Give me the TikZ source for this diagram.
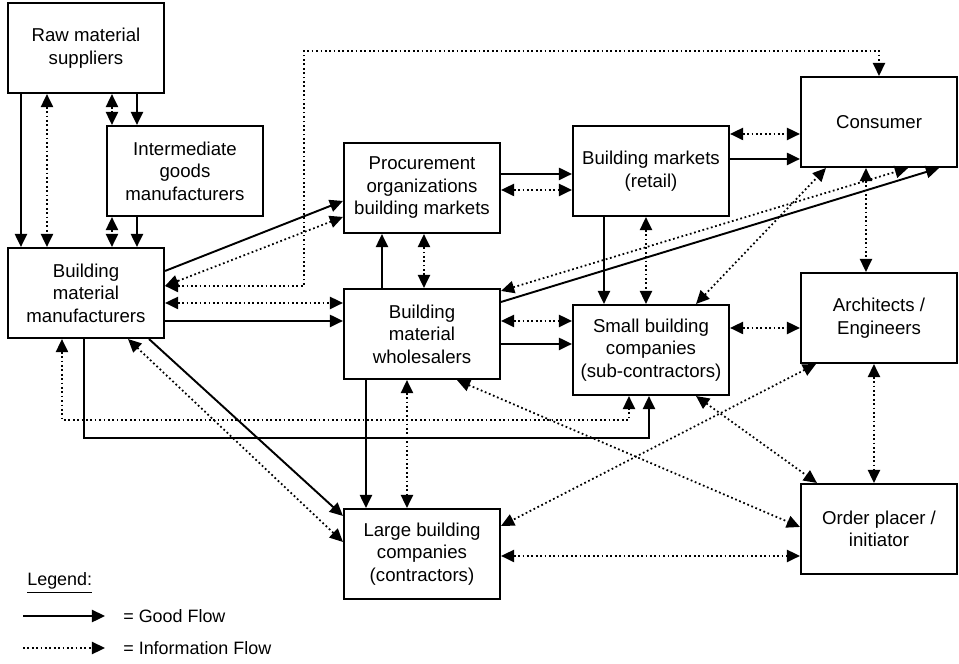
\documentclass[tikz,border=0pt]{standalone}
\usepackage{fontspec}
\setmainfont{Liberation Sans}
\usetikzlibrary{arrows.meta}

\begin{document}
\begin{tikzpicture}[x=0.02cm,y=-0.02cm]
    \tikzstyle{actor}=[draw=black,line width=1.2pt,minimum width=3.12cm,minimum height=1.8cm,align=center,inner sep=2pt,font=\fontsize{10.6}{12.8}\selectfont]
    \tikzstyle{good}=[line width=1.1pt,-{Triangle[length=7.5pt,width=7pt]}]
    \tikzstyle{info}=[line width=1pt,dash pattern=on 1pt off 1.5pt,{Triangle[length=7.5pt,width=7pt]}-{Triangle[length=7.5pt,width=7pt]}]
    \tikzstyle{legendtext}=[anchor=west,inner sep=0pt,font=\fontsize{10.2}{12}\selectfont]

    \useasboundingbox (0,0) rectangle (959,663);

    % actors
    \node[actor] at (86,48) (raw) {Raw material\\suppliers};
    \node[actor] at (185,171) (inter) {Intermediate\\goods\\manufacturers};
    \node[actor] at (86,293) (bmm) {Building\\material\\manufacturers};
    \node[actor] at (422,188) (proc) {Procurement\\organizations\\building markets};
    \node[actor] at (651,171) (retail) {Building markets\\(retail)};
    \node[actor] at (879,122) (cons) {Consumer};
    \node[actor] at (422,334) (whole) {Building\\material\\wholesalers};
    \node[actor] at (651,350) (small) {Small building\\companies\\(sub-contractors)};
    \node[actor] at (879,318) (arch) {Architects /\\Engineers};
    \node[actor] at (422,554) (large) {Large building\\companies\\(contractors)};
    \node[actor] at (879,529) (order) {Order placer /\\initiator};

    % suppliers and manufacturers
    \draw[good] ([shift={(14,0)}]raw.south west) -- ([shift={(14,0)}]bmm.north west);
    \draw[info] ([shift={(40,0)}]raw.south west) -- ([shift={(40,0)}]bmm.north west);
    \draw[info] ([shift={(105,0)}]raw.south west) -- ([shift={(6,0)}]inter.north west);
    \draw[good] ([shift={(130,0)}]raw.south west) -- ([shift={(31,0)}]inter.north west);
    \draw[info] ([shift={(6,0)}]inter.south west) -- ([shift={(105,0)}]bmm.north west);
    \draw[good] ([shift={(31,0)}]inter.south west) -- ([shift={(130,0)}]bmm.north west);

    % building material manufacturers
    \draw[good] ([shift={(0,24)}]bmm.north east) -- ([shift={(0,59)}]proc.north west);
    \draw[info] ([shift={(0,75)}]proc.north west) -- ([shift={(0,39)}]bmm.north east);
    \draw[info] ([shift={(0,39)}]bmm.north east) -| ([shift={(-575,-25)}]cons.north) -| (cons.north);
    \draw[info] ([shift={(0,56)}]bmm.north east) -- ([shift={(0,15)}]whole.north west);
    \draw[good] ([shift={(0,74)}]bmm.north east) -- ([shift={(0,33)}]whole.north west);
    \draw[info] ([shift={(55,0)}]bmm.south west) -- ++(0,81) -| ([shift={(57,0)}]small.south west);
    \draw[good] ([shift={(77,0)}]bmm.south west) -- ++(0,99) -| ([shift={(77,0)}]small.south west);
    \draw[info] ([shift={(-37,0)}]bmm.south east) -- ([shift={(0,34)}]large.north west);
    \draw[good] ([shift={(-16,0)}]bmm.south east) -- ([shift={(0,8)}]large.north west);

    % trade
    \draw[good] ([shift={(39,0)}]whole.north west) -- ([shift={(39,0)}]proc.south west);
    \draw[info] ([shift={(81,0)}]whole.north west) -- ([shift={(81,0)}]proc.south west);
    \draw[good] ([shift={(0,32)}]proc.north east) -- ([shift={(0,49)}]retail.north west);
    \draw[info] ([shift={(0,48)}]proc.north east) -- ([shift={(0,65)}]retail.north west);
    \draw[info] ([shift={(0,9)}]retail.north east) -- ([shift={(0,58)}]cons.north west);
    \draw[good] ([shift={(0,34)}]retail.north east) -- ([shift={(0,83)}]cons.north west);
    \draw[good] ([shift={(32,0)}]retail.south west) -- ([shift={(32,0)}]small.north west);
    \draw[info] ([shift={(74,0)}]retail.south west) -- ([shift={(74,0)}]small.north west);
    \draw[info] ([shift={(0,33)}]whole.north east) -- ([shift={(0,17)}]small.north west);
    \draw[good] ([shift={(0,56)}]whole.north east) -- ([shift={(0,40)}]small.north west);
    \draw[info] ([shift={(0,3)}]whole.north east) -- ([shift={(-50,0)}]cons.south east);
    \draw[good] ([shift={(0,14)}]whole.north east) -- ([shift={(-19,0)}]cons.south east);
    \draw[good] ([shift={(23,0)}]whole.south west) -- ([shift={(23,0)}]large.north west);
    \draw[info] ([shift={(64,0)}]whole.south west) -- ([shift={(64,0)}]large.north west);

    % builders, planners, customers
    \draw[info] ([shift={(-34,0)}]small.north east) -- ([shift={(26,0)}]cons.south west);
    \draw[info] ([shift={(66,0)}]cons.south west) -- ([shift={(66,0)}]arch.north west);
    \draw[info] ([shift={(0,24)}]small.north east) -- ([shift={(0,56)}]arch.north west);
    \draw[info] ([shift={(-34,0)}]small.south east) -- ([shift={(17,0)}]order.north west);
    \draw[info] ([shift={(16,0)}]arch.south west) -- ([shift={(0,18)}]large.north east);
    \draw[info] ([shift={(74,0)}]arch.south west) -- ([shift={(74,0)}]order.north west);
    \draw[info] ([shift={(114,0)}]whole.south west) -- ([shift={(0,44)}]order.north west);
    \draw[info] ([shift={(0,48)}]large.north east) -- ([shift={(0,73)}]order.north west);

    % legend
    \node[legendtext] at (27,583) (legend) {\underline{Legend:}};
    \coordinate (g0) at (23,616);
    \coordinate (g1) at (105,616);
    \coordinate (i0) at (23,648);
    \coordinate (i1) at (105,648);
    \draw[good] (g0) -- (g1);
    \draw[info,-{Triangle[length=7.5pt,width=7pt]}] (i0) -- (i1);
    \node[legendtext] at (123,616) (goodflow) {= Good Flow};
    \node[legendtext] at (123,648) (infoflow) {= Information Flow};
\end{tikzpicture}
\end{document}
